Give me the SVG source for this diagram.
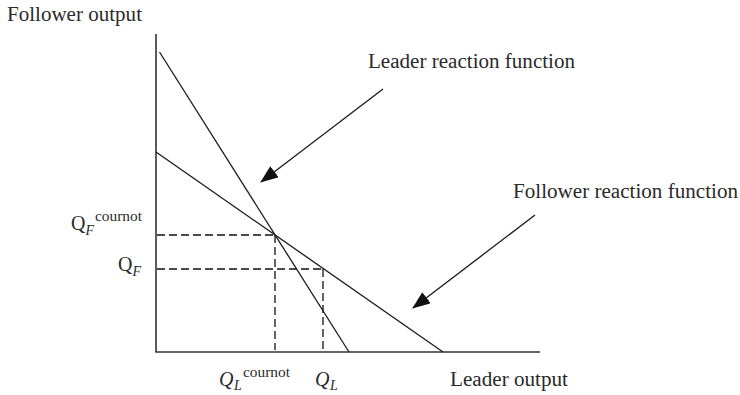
<svg xmlns="http://www.w3.org/2000/svg" width="740" height="395" viewBox="0 0 740 395">
<defs>
<style>
.t{font-family:"Liberation Serif","Times New Roman",serif;fill:#2a2a2a;}
.lab{font-size:20px;}
.ax{stroke:#333;stroke-width:1.6;fill:none;}
.ln{stroke:#1a1a1a;stroke-width:1.3;fill:none;}
.dash{stroke:#111;stroke-width:1.3;stroke-dasharray:8,4;fill:none;}
.arr{stroke:#1a1a1a;stroke-width:1.3;fill:none;marker-end:url(#ah);}
</style>
<marker id="ah" markerUnits="userSpaceOnUse" markerWidth="18" markerHeight="14" viewBox="0 0 18 14" refX="17" refY="7" orient="auto">
<path d="M0,0 L18,7 L0,14 z" fill="#111"/>
</marker>
</defs>
<rect width="740" height="395" fill="#fff"/>
<g id="axes">
<line class="ax" x1="156" y1="34" x2="156" y2="352"/>
<line class="ax" x1="155.2" y1="352" x2="540" y2="352"/>
</g>
<g id="leader-reaction-line">
<line class="ln" x1="159.5" y1="52" x2="349" y2="352"/>
</g>
<g id="follower-reaction-line">
<line class="ln" x1="156" y1="152" x2="443" y2="352"/>
</g>
<g id="guides">
<line class="dash" x1="157" y1="235" x2="275" y2="235"/>
<line class="dash" x1="275" y1="235" x2="275" y2="350"/>
<line class="dash" x1="157" y1="269" x2="323" y2="269"/>
<line class="dash" x1="323" y1="269" x2="323" y2="350"/>
</g>
<g id="connectors">
<line class="arr" x1="383" y1="89" x2="261" y2="182"/>
<line class="arr" x1="535" y1="215" x2="413" y2="308"/>
</g>
<g id="labels">
<text class="t lab" x="7" y="20.5" textLength="135" lengthAdjust="spacingAndGlyphs">Follower output</text>
<text class="t lab" x="368" y="68.3" textLength="207" lengthAdjust="spacingAndGlyphs">Leader reaction function</text>
<text class="t lab" x="513" y="198.3" textLength="225" lengthAdjust="spacingAndGlyphs">Follower reaction function</text>
<text class="t lab" x="450" y="386" textLength="118" lengthAdjust="spacingAndGlyphs">Leader output</text>
<g id="q-f-cournot">
<text class="t" x="71" y="230" font-size="20">Q</text>
<text class="t" x="85.5" y="235" font-size="14" font-style="italic">F</text>
<text class="t" x="95" y="221" font-size="15" textLength="47" lengthAdjust="spacingAndGlyphs">cournot</text>
</g>
<g id="q-f">
<text class="t" x="118" y="271" font-size="20">Q</text>
<text class="t" x="132.5" y="276" font-size="14" font-style="italic">F</text>
</g>
<g id="q-l-cournot">
<text class="t" x="219" y="386" font-size="20" font-style="italic">Q</text>
<text class="t" x="234" y="390" font-size="14" font-style="italic">L</text>
<text class="t" x="243" y="377" font-size="15" textLength="47" lengthAdjust="spacingAndGlyphs">cournot</text>
</g>
<g id="q-l">
<text class="t" x="315" y="386" font-size="20" font-style="italic">Q</text>
<text class="t" x="330" y="390" font-size="14" font-style="italic">L</text>
</g>
</g>
</svg>
